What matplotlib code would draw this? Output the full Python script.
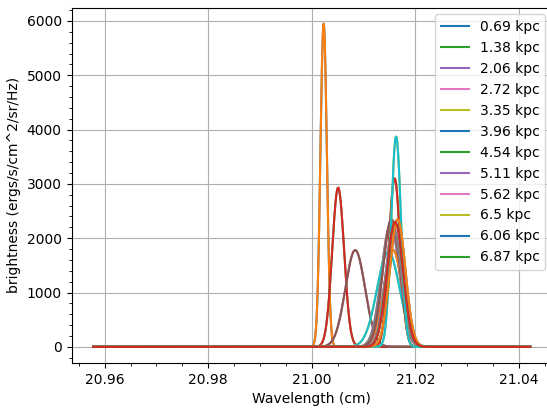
import numpy as np
import matplotlib
matplotlib.use("Agg")
import matplotlib.pyplot as plt

# distance of each cloud (legend) and its line profile
distances = [0.69, 1.38, 2.06, 2.72, 3.35, 3.96, 4.54, 5.11, 5.62, 6.5, 6.06, 6.87]
centers = [21.0023, 21.0051, 21.0084, 21.0152, 21.0148, 21.0157,
           21.0160, 21.0154, 21.0158, 21.0163, 21.0166, 21.0161]
peaks = [5950, 2930, 1780, 2250, 1750, 1780, 3100, 2350, 2200, 3870, 2350, 2300]
widths = [0.00062, 0.00115, 0.00190, 0.00175, 0.00220, 0.00180,
          0.00110, 0.00165, 0.00155, 0.00095, 0.00150, 0.00155]

wl = np.linspace(20.9578, 21.0422, 2000)

fig = plt.figure(figsize=(5.47, 4.13), dpi=100)
# the right spine falls just outside the saved picture
fig.subplots_adjust(left=71.5 / 547, right=552 / 547, top=1 - 7.5 / 413, bottom=1 - 363 / 413)

for d, c, p, w in zip(distances, centers, peaks, widths):
    b = p * np.exp(-0.5 * ((wl - c) / w) ** 2)
    plt.plot(wl, b, label=str(d) + " kpc")
    plt.plot(wl, b)

plt.xlabel("Wavelength (cm)")
plt.ylabel("brightness (ergs/s/cm^2/sr/Hz)")
plt.minorticks_on()
plt.grid()
plt.legend(loc="upper right")
plt.savefig("out.png", dpi=100)
